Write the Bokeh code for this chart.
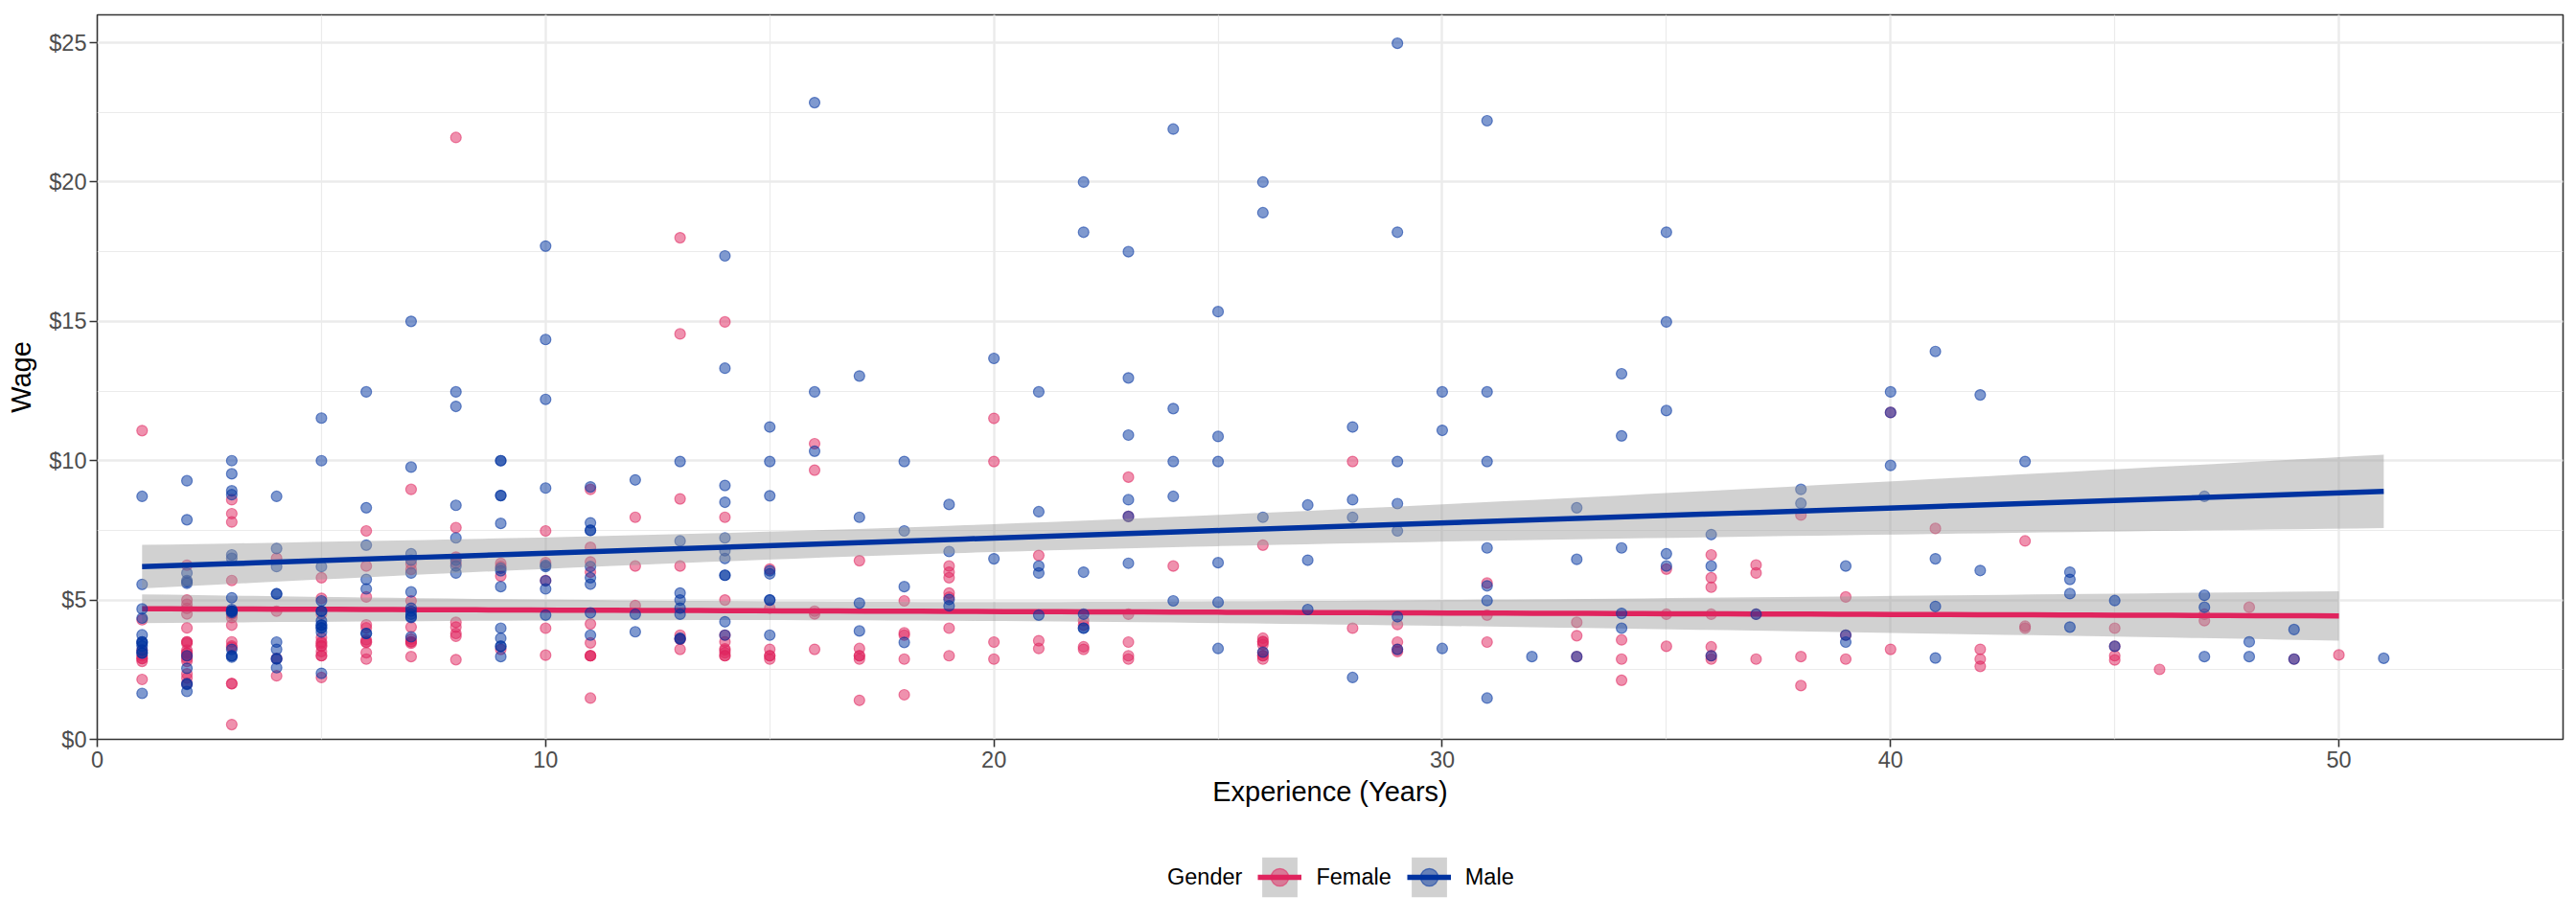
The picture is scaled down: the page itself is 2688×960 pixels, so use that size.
import numpy as np
from bokeh.plotting import figure
from bokeh.layouts import column
from bokeh.models import (Legend, LegendItem, SingleIntervalTicker,
                          NumeralTickFormatter, Range1d, ColumnDataSource)
from bokeh.embed import file_html
from bokeh.resources import INLINE

# ---------------- data ----------------
female_exper = [
    1, 1, 1, 1, 1, 1, 1, 1,
    2, 2, 2, 2, 2, 2, 2, 2, 2, 2, 2, 2, 2, 2, 2, 2, 2, 2, 2,
    3, 3, 3, 3, 3, 3, 3, 3, 3, 3, 3, 3, 3, 3,
    4, 4, 4, 4,
    5, 5, 5, 5, 5, 5, 5, 5, 5, 5, 5, 5,
    6, 6, 6, 6, 6, 6, 6, 6, 6, 6,
    7, 7, 7, 7, 7, 7, 7, 7, 7, 7,
    8, 8, 8, 8, 8, 8, 8, 8, 8,
    9, 9, 9, 9,
    10, 10, 10, 10, 10,
    11, 11, 11, 11, 11, 11, 11, 11, 11, 11,
    12, 12, 12,
    13, 13, 13, 13, 13, 13, 13, 13,
    14, 14, 14, 14, 14, 14, 14, 14, 14, 14,
    15, 15, 15, 15, 15, 15,
    16, 16, 16, 16, 16,
    17, 17, 17, 17, 17, 17,
    18, 18, 18, 18, 18,
    19, 19, 19, 19, 19, 19, 19,
    20, 20, 20, 20,
    21, 21, 21,
    22, 22, 22, 22,
    23, 23, 23, 23, 23, 23,
    24,
    26, 26, 26, 26, 26, 26, 26, 26, 26,
    28, 28,
    29, 29, 29, 29,
    31, 31, 31,
    33, 33, 33,
    34, 34, 34,
    35, 35, 35,
    36, 36, 36, 36, 36, 36, 36,
    37, 37, 37, 37,
    38, 38, 38,
    39, 39, 39,
    40, 40,
    41,
    42, 42, 42,
    43, 43, 43,
    45, 45, 45, 45,
    46,
    47, 47,
    48,
    49,
    50,
]
female_wage = [
    11.08, 4.29, 3.2, 3.0, 2.9, 2.9, 2.8, 2.15,
    6.25, 5.0, 4.85, 4.7, 4.5, 4.0, 3.5, 3.5, 3.45, 3.2, 3.1, 3.1, 3.0, 3.0, 2.9, 2.8, 2.35, 2.2, 2.0,
    8.6, 8.1, 7.8, 5.7, 4.5, 4.5, 4.37, 4.1, 3.5, 3.35, 3.3, 2.0, 2.0, 0.53,
    6.5, 4.6, 2.9, 2.28,
    5.8, 5.06, 4.5, 3.65, 3.5, 3.45, 3.35, 3.35, 3.15, 3.0, 3.0, 2.22,
    7.48, 6.22, 5.11, 4.11, 4.0, 3.57, 3.5, 3.48, 3.11, 2.88,
    8.97, 6.3, 6.1, 4.97, 4.03, 3.6, 3.5, 3.5, 3.45, 2.97,
    21.6, 7.6, 6.54, 6.32, 4.2, 4.03, 3.8, 3.7, 2.86,
    6.32, 6.2, 5.86, 3.23,
    7.48, 6.34, 5.7, 3.99, 3.02,
    8.97, 6.89, 6.37, 6.0, 4.14, 3.46, 3.0, 3.0, 3.0, 1.48,
    7.97, 6.22, 4.8,
    18.0, 14.55, 8.63, 6.22, 3.74, 3.6, 3.6, 3.23,
    14.98, 7.97, 5.0, 3.74, 3.5, 3.25, 3.2, 3.11, 3.0, 3.0,
    6.11, 4.71, 3.23, 3.0, 3.0, 2.88,
    10.61, 9.66, 4.6, 4.5, 3.23,
    6.41, 3.26, 3.0, 3.0, 2.88, 1.4,
    4.97, 3.82, 3.74, 2.88, 1.6,
    6.22, 6.0, 5.8, 5.25, 5.1, 3.99, 3.0,
    11.52, 9.97, 3.49, 2.88,
    6.6, 3.54, 3.26,
    4.26, 4.1, 3.32, 3.23,
    9.41, 8.0, 4.49, 3.49, 3.0, 2.88,
    6.22,
    6.97, 3.63, 3.51, 3.5, 3.4, 3.11, 3.0, 3.0, 2.88,
    9.97, 3.99,
    4.12, 3.49, 3.23, 3.15,
    5.61, 4.46, 3.49,
    4.2, 3.72, 2.97,
    3.57, 2.88, 2.12,
    6.11, 4.49, 3.34,
    6.62, 5.8, 5.46, 4.49, 3.32, 3.0, 2.88,
    6.26, 5.97, 4.49, 2.88,
    8.05, 2.97, 1.93,
    5.11, 3.74, 2.88,
    11.73, 3.23,
    7.57,
    3.23, 2.88, 2.62,
    7.12, 4.06, 3.99,
    3.99, 3.34, 3.0, 2.85,
    2.51,
    4.49, 4.26,
    4.74,
    2.88,
    3.03,
]

male_exper = [
    1, 1, 1, 1, 1, 1, 1, 1, 1, 1, 1, 1, 1,
    2, 2, 2, 2, 2, 2, 2, 2, 2, 2, 2,
    3, 3, 3, 3, 3, 3, 3, 3, 3, 3, 3, 3, 3, 3, 3, 3,
    4, 4, 4, 4, 4, 4, 4, 4, 4, 4,
    5, 5, 5, 5, 5, 5, 5, 5, 5, 5, 5, 5, 5,
    6, 6, 6, 6, 6, 6, 6,
    7, 7, 7, 7, 7, 7, 7, 7, 7, 7, 7, 7,
    8, 8, 8, 8, 8, 8, 8,
    9, 9, 9, 9, 9, 9, 9, 9, 9, 9, 9, 9, 9,
    10, 10, 10, 10, 10, 10, 10, 10, 10,
    11, 11, 11, 11, 11, 11, 11, 11, 11,
    12, 12, 12,
    13, 13, 13, 13, 13, 13, 13, 13,
    14, 14, 14, 14, 14, 14, 14, 14, 14, 14, 14,
    15, 15, 15, 15, 15, 15, 15, 15,
    16, 16, 16,
    17, 17, 17, 17,
    18, 18, 18, 18,
    19, 19, 19, 19,
    20, 20,
    21, 21, 21, 21, 21,
    22, 22, 22, 22, 22, 22,
    23, 23, 23, 23, 23, 23,
    24, 24, 24, 24, 24,
    25, 25, 25, 25, 25, 25,
    26, 26, 26, 26,
    27, 27, 27,
    28, 28, 28, 28,
    29, 29, 29, 29, 29, 29, 29,
    30, 30, 30,
    31, 31, 31, 31, 31, 31, 31,
    32,
    33, 33, 33,
    34, 34, 34, 34, 34,
    35, 35, 35, 35, 35,
    36, 36, 36,
    37,
    38, 38,
    39, 39, 39,
    40, 40, 40,
    41, 41, 41, 41,
    42, 42,
    43,
    44, 44, 44, 44,
    45, 45,
    47, 47, 47, 47,
    48, 48,
    49, 49,
    51,
]
male_wage = [
    8.72, 5.56, 4.68, 4.35, 3.75, 3.5, 3.5, 3.45, 3.35, 3.2, 3.1, 3.1, 1.65,
    9.28, 7.88, 5.97, 5.7, 5.65, 5.6, 3.0, 2.55, 2.0, 1.97, 1.72,
    10.0, 9.53, 8.92, 8.78, 6.62, 6.5, 5.08, 4.66, 4.6, 4.6, 4.6, 4.55, 3.23, 3.0, 3.0, 2.95,
    8.72, 6.85, 6.2, 5.22, 5.22, 3.49, 3.23, 2.9, 2.88, 2.57,
    11.53, 10.0, 6.2, 4.97, 4.6, 4.6, 4.25, 4.1, 4.1, 4.0, 4.0, 3.85, 2.37,
    12.47, 8.31, 6.97, 5.74, 5.4, 3.8, 3.8,
    15.0, 9.77, 6.66, 6.43, 5.97, 5.29, 4.71, 4.6, 4.49, 4.4, 4.37, 3.68,
    12.47, 11.95, 8.4, 7.23, 6.43, 6.22, 5.97,
    10.0, 10.0, 8.75, 8.75, 7.75, 6.14, 6.05, 5.48, 3.99, 3.63, 3.34, 3.34, 2.97,
    17.7, 14.35, 12.2, 9.02, 6.25, 6.2, 5.69, 5.4, 4.46,
    9.06, 7.77, 7.5, 7.5, 6.2, 5.8, 5.57, 4.54, 3.74,
    9.31, 4.49, 3.86,
    9.97, 7.12, 5.25, 5.0, 4.71, 4.49, 3.63, 3.6,
    17.35, 13.32, 9.11, 8.51, 7.23, 6.77, 6.49, 5.89, 5.89, 4.22, 3.74,
    11.21, 9.97, 8.74, 6.05, 5.94, 5.0, 5.0, 3.74,
    22.85, 12.47, 10.34,
    13.04, 7.97, 4.89, 3.89,
    9.97, 7.48, 5.48, 3.48,
    8.43, 6.74, 5.02, 4.79,
    13.67, 6.48,
    12.47, 8.17, 6.22, 5.97, 4.46,
    20.0, 18.2, 6.0, 4.49, 3.99, 3.99,
    17.5, 12.97, 10.92, 8.6, 8.0, 6.32,
    21.9, 11.87, 9.97, 8.72, 4.97,
    15.35, 10.87, 9.97, 6.34, 4.92, 3.26,
    20.0, 18.9, 7.97, 3.13,
    8.41, 6.43, 4.66,
    11.21, 8.6, 7.97, 2.22,
    24.98, 18.2, 9.97, 8.46, 7.48, 4.4, 3.23,
    12.47, 11.09, 3.26,
    22.2, 12.47, 9.97, 6.87, 5.51, 4.98, 1.48,
    2.97,
    8.31, 6.46, 2.97,
    13.12, 10.89, 6.87, 4.52, 3.99,
    18.2, 14.98, 11.8, 6.66, 6.22,
    7.35, 6.22, 3.0,
    4.49,
    8.97, 8.47,
    6.22, 3.74, 3.49,
    12.47, 11.73, 9.83,
    13.92, 6.48, 4.77, 2.92,
    12.36, 6.06,
    9.97,
    6.0, 5.74, 5.23, 4.03,
    4.98, 3.34,
    8.72, 5.17, 4.74, 2.97,
    3.5, 2.97,
    3.94, 2.88,
    2.91,
]

assert len(female_exper) == len(female_wage)
assert len(male_exper) == len(male_wage)

legend_title = "Gender"
genders = ["Female", "Male"]
x_ticks_interval = 10
y_ticks_interval = 5

FONT = "Liberation Sans"
PINK = "#E0245E"
BLUE = "#0033A0"
BAND = "#999999"
colors = {"Female": PINK, "Male": BLUE}


def lm_smooth(x, y, n=80, t=1.97):
    """Linear fit with a 95% confidence band, like geom_smooth(method='lm')."""
    x = np.asarray(x, float)
    y = np.asarray(y, float)
    b1, b0 = np.polyfit(x, y, 1)
    resid = y - (b0 + b1 * x)
    s = np.sqrt(np.sum(resid ** 2) / (len(x) - 2))
    xs = np.linspace(x.min(), x.max(), n)
    fit = b0 + b1 * xs
    se = s * np.sqrt(1.0 / len(x) + (xs - x.mean()) ** 2 / np.sum((x - x.mean()) ** 2))
    return xs, fit, fit - t * se, fit + t * se


sources = {"Female": ColumnDataSource(dict(x=female_exper, y=female_wage)),
           "Male": ColumnDataSource(dict(x=male_exper, y=male_wage))}
smooths = {"Female": lm_smooth(female_exper, female_wage),
           "Male": lm_smooth(male_exper, male_wage)}

W = 2684
p = figure(width=W, height=860, output_backend="svg", toolbar_location=None,
           x_range=Range1d(0, 55), y_range=Range1d(0, 26),
           min_border_left=101, min_border_right=10, min_border_top=15,
           min_border_bottom=89)
p.background_fill_color = "white"
p.border_fill_color = "white"
p.outline_line_color = "#333333"
p.outline_line_width = 1.6

# axes
p.xaxis.ticker = SingleIntervalTicker(interval=x_ticks_interval, num_minor_ticks=2)
p.yaxis.ticker = SingleIntervalTicker(interval=y_ticks_interval, num_minor_ticks=2)
p.yaxis.formatter = NumeralTickFormatter(format="$0,0")
p.xaxis.axis_label = "Experience (Years)"
p.yaxis.axis_label = "Wage"
for ax in (p.xaxis, p.yaxis):
    ax.axis_line_color = None
    ax.major_tick_line_color = "#333333"
    ax.major_tick_line_width = 1.6
    ax.major_tick_out = 8
    ax.major_tick_in = 0
    ax.minor_tick_line_color = None
    ax.major_label_text_font = FONT
    ax.major_label_text_font_size = "23.5px"
    ax.major_label_text_color = "#4D4D4D"
    ax.axis_label_text_font = FONT
    ax.axis_label_text_font_size = "29px"
    ax.axis_label_text_font_style = "normal"
    ax.axis_label_text_color = "black"
p.xaxis.major_label_standoff = 4
p.xaxis.axis_label_standoff = 6
p.yaxis.major_label_standoff = 3
p.yaxis.axis_label_standoff = 10

for g in (p.xgrid, p.ygrid):
    g.grid_line_color = "#EBEBEB"
    g.grid_line_width = 2.4
    g.minor_grid_line_color = "#EBEBEB"
    g.minor_grid_line_width = 1.2

point_style = dict(size=11, fill_alpha=0.5, line_alpha=0.55, line_width=1.2)


def draw_layers(fig, name):
    """Points, then the lm band and line, for one gender on one figure."""
    col = colors[name]
    gx, fit, lo, hi = smooths[name]
    pts = fig.scatter("x", "y", source=sources[name], fill_color=col,
                      line_color=col, **point_style)
    band = fig.varea(x=gx, y1=lo, y2=hi, fill_color=BAND, fill_alpha=0.45)
    line = fig.line(x=gx, y=fit, line_color=col, line_width=5.5)
    return pts, band, line


main_layers = {}
pts_f, band_f, line_f = draw_layers(p, "Female")
pts_m, band_m, line_m = draw_layers(p, "Male")

# ---------------- legend strip under the plot ----------------
# the same layers are replicated on a strip whose ranges show none of them,
# so that the legend can sit below the axis title without being clipped
leg = figure(width=W, height=92, output_backend="svg", toolbar_location=None,
             x_range=Range1d(-3, -2), y_range=Range1d(-3, -2),
             x_axis_location=None, y_axis_location=None, min_border=0)
leg.outline_line_color = None
leg.grid.visible = False
ghost = leg.scatter("x", "y", source=sources["Female"], size=1,
                    fill_alpha=0, line_alpha=0)
items = [LegendItem(label=legend_title, renderers=[ghost])]
for name in genders:
    k_pt, k_band, k_line = draw_layers(leg, name)
    items.append(LegendItem(label=name, renderers=[k_band, k_pt, k_line]))

legend = Legend(items=items, orientation="horizontal", location=(1056, 11),
                label_text_font=FONT, label_text_font_size="23.5px",
                label_text_color="black",
                glyph_width=46, glyph_height=52, label_standoff=15, spacing=16,
                padding=0, margin=0, border_line_color=None,
                background_fill_alpha=0)
leg.add_layout(legend, "center")

page = column(p, leg, spacing=0)
open("out.html", "w").write(file_html(page, INLINE))
